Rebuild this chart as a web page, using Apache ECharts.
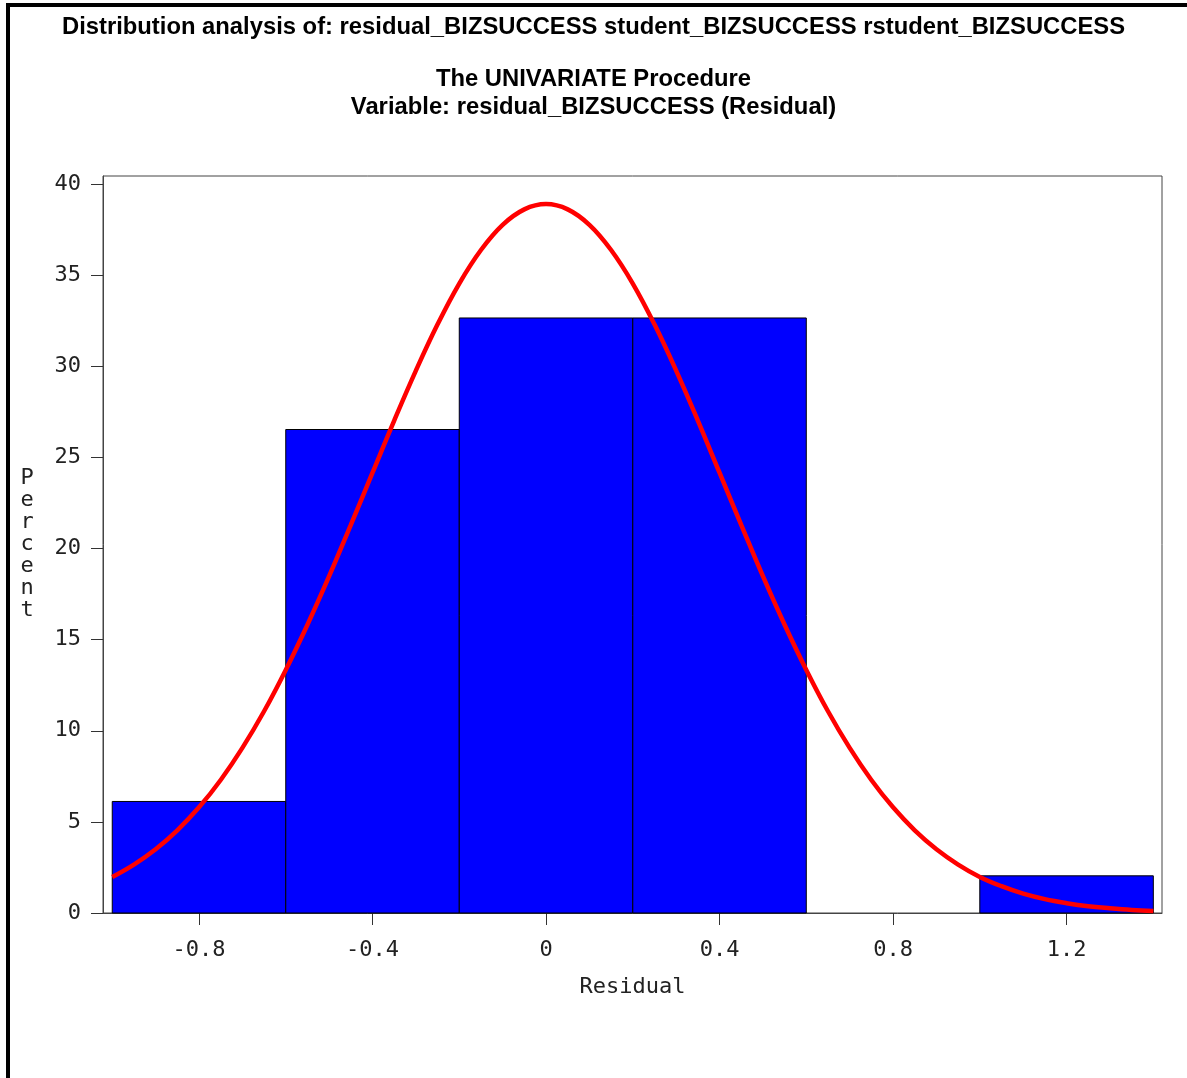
<!DOCTYPE html>
<html>
<head>
<meta charset="utf-8">
<title>Distribution analysis of residual_BIZSUCCESS</title>
<script src="https://cdn.jsdelivr.net/npm/echarts@6/dist/echarts.min.js"></script>
<style>
  html, body { margin: 0; padding: 0; background: #fff; }
  #wrap { position: relative; width: 1187px; height: 1078px; overflow: hidden; }
  #chart { position: absolute; left: 0; top: 0; width: 1187px; height: 1078px; }
  #frame {
    position: absolute; left: 6px; top: 3px; right: 0; bottom: 0;
    border-left: 4px solid #000; border-top: 4px solid #000;
    pointer-events: none;
  }
</style>
</head>
<body>
<div id="wrap">
  <div id="chart"></div>
  <div id="frame"></div>
</div>
<script>
// Histogram bins of the residual (bin edges and percent of observations per bin)
const binEdges = [-1.0, -0.6, -0.2, 0.2, 0.6, 1.0, 1.4];
const binPercent = [6.12, 26.53, 32.65, 32.65, 0, 2.04];

// Fitted normal curve, percent scale
const curveX = [-1.0, -0.95, -0.9, -0.85, -0.8, -0.75, -0.7, -0.65, -0.6, -0.55, -0.5, -0.45,
                -0.4, -0.35, -0.3, -0.25, -0.2, -0.15, -0.1, -0.05, 0.0,
                 0.05, 0.1, 0.15, 0.2, 0.25, 0.3, 0.35, 0.4, 0.45, 0.5, 0.55, 0.6,
                 0.65, 0.7, 0.75, 0.8, 0.85, 0.9, 0.95, 1.0, 1.05, 1.1, 1.15, 1.2,
                 1.25, 1.3, 1.35, 1.4];
const curveY = [1.98, 2.66, 3.50, 4.54, 5.80, 7.30, 9.06, 11.07, 13.34, 15.82, 18.48, 21.30,
                24.16, 27.02, 29.76, 32.30, 34.54, 36.38, 37.76, 38.61, 38.90,
                38.61, 37.76, 36.38, 34.54, 32.30, 29.76, 27.02, 24.16, 21.30, 18.48, 15.82, 13.34,
                11.07, 9.06, 7.30, 5.80, 4.54, 3.50, 2.66, 1.98, 1.47, 1.06, 0.76, 0.54,
                0.37, 0.26, 0.17, 0.11];

// Axis ticks
const xTicks = [-0.8, -0.4, 0, 0.4, 0.8, 1.2];
const xTickLabels = ['-0.8', '-0.4', '0', '0.4', '0.8', '1.2'];
const yTicks = [0, 5, 10, 15, 20, 25, 30, 35, 40];
const yTickLabels = ['0', '5', '10', '15', '20', '25', '30', '35', '40'];

const titleLines = [
  'Distribution analysis of: residual_BIZSUCCESS student_BIZSUCCESS rstudent_BIZSUCCESS',
  'The UNIVARIATE Procedure',
  'Variable: residual_BIZSUCCESS (Residual)'
];

const monoFont = '"DejaVu Sans Mono", "Liberation Mono", monospace';
const titleFont = '"Liberation Sans", Arial, sans-serif';
const titleStyle = { fontFamily: titleFont, fontWeight: 'bold', fontSize: 23.8, color: '#000' };

const barData = binPercent.map((p, i) => [binEdges[i], binEdges[i + 1], p]);
const lineData = curveX.map((x, i) => [x, curveY[i]]);

const chart = echarts.init(document.getElementById('chart'), null, { renderer: 'canvas' });

chart.setOption({
  backgroundColor: '#ffffff',
  animation: false,
  title: [
    { text: titleLines[0], left: 'center', top: 15, padding: 0, textStyle: titleStyle },
    { text: titleLines[1], left: 'center', top: 67, padding: 0, textStyle: titleStyle },
    { text: titleLines[2], left: 'center', top: 95, padding: 0, textStyle: titleStyle }
  ],
  grid: {
    left: 103, right: 25, top: 176, bottom: 165,
    show: true, borderColor: '#444', borderWidth: 1, backgroundColor: 'transparent'
  },
  xAxis: {
    type: 'value',
    min: -1.0213, max: 1.42,
    name: 'Residual',
    nameLocation: 'middle',
    nameGap: 63,
    nameTextStyle: { fontFamily: monoFont, fontSize: 22, color: '#222', verticalAlign: 'top' },
    axisLine: { show: true, onZero: false, lineStyle: { color: '#444', width: 1 } },
    axisTick: { show: true, length: 12, customValues: xTicks, lineStyle: { color: '#333', width: 1 } },
    axisLabel: {
      show: true, margin: 26, customValues: xTicks,
      fontFamily: monoFont, fontSize: 22, color: '#222',
      formatter: v => {
        const i = xTicks.findIndex(t => Math.abs(t - v) < 1e-9);
        return i >= 0 ? xTickLabels[i] : '';
      }
    },
    splitLine: { show: false }
  },
  yAxis: {
    type: 'value',
    min: 0, max: 40.44,
    name: 'P\ne\nr\nc\ne\nn\nt',
    nameLocation: 'middle',
    nameRotate: 0,
    nameGap: 76,
    nameTextStyle: {
      fontFamily: monoFont, fontSize: 22, color: '#222',
      align: 'center', verticalAlign: 'middle', lineHeight: 22
    },
    axisLine: { show: true, onZero: false, lineStyle: { color: '#444', width: 1 } },
    axisTick: { show: true, length: 12, customValues: yTicks, lineStyle: { color: '#333', width: 1 } },
    axisLabel: {
      show: true, margin: 22, customValues: yTicks,
      fontFamily: monoFont, fontSize: 22, color: '#222',
      formatter: v => {
        const i = yTicks.findIndex(t => Math.abs(t - v) < 1e-9);
        return i >= 0 ? yTickLabels[i] : '';
      }
    },
    splitLine: { show: false }
  },
  series: [
    {
      type: 'custom',
      name: 'Histogram',
      data: barData,
      encode: { x: [0, 1], y: 2 },
      renderItem: (params, api) => {
        const x0 = api.value(0), x1 = api.value(1), h = api.value(2);
        if (!(h > 0)) return null;
        const p0 = api.coord([x0, h]);
        const p1 = api.coord([x1, 0]);
        return {
          type: 'rect',
          shape: { x: p0[0], y: p0[1], width: p1[0] - p0[0], height: p1[1] - p0[1] },
          style: { fill: '#0000ff', stroke: '#000', lineWidth: 1 }
        };
      },
      z: 2
    },
    {
      type: 'line',
      name: 'Normal',
      data: lineData,
      smooth: 0.4,
      showSymbol: false,
      lineStyle: { color: '#ff0000', width: 4.5 },
      z: 3
    }
  ]
});
</script>
</body>
</html>
